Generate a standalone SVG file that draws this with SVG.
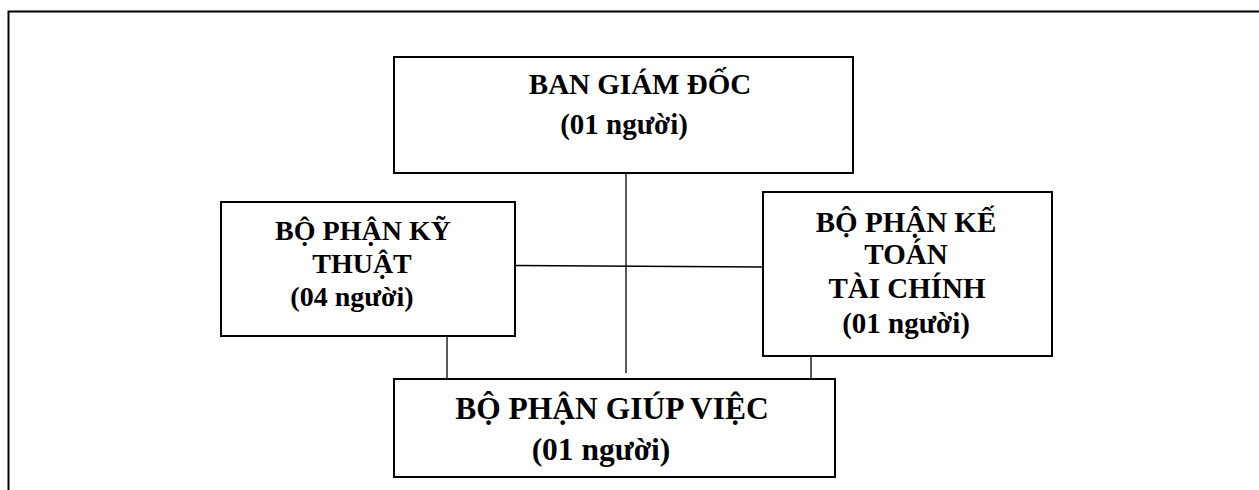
<svg xmlns="http://www.w3.org/2000/svg" width="1259" height="490" viewBox="0 0 1259 490">
<style>
.box{fill:#fff;stroke:#000;stroke-width:2}
.t{font-family:"Liberation Serif","Times New Roman",serif;font-weight:bold;fill:#000;text-anchor:middle}
.c{stroke:#000;stroke-width:1.3;fill:none}
</style>
<rect width="1259" height="490" fill="#fff"/>
<path d="M8.5,490 V11.5 H1259" fill="none" stroke="#000" stroke-width="2"/>
<g id="connectors">
<line class="c" x1="626" y1="173" x2="626" y2="373"/>
<line class="c" x1="515" y1="265.5" x2="763" y2="267"/>
<line class="c" x1="447" y1="336" x2="447" y2="379"/>
<line class="c" x1="811" y1="356" x2="811" y2="379"/>
</g>
<g id="ban-giam-doc">
<rect class="box" x="394" y="57" width="459" height="116"/>
<text class="t" x="640" y="94" font-size="29">BAN GIÁM ĐỐC</text>
<text class="t" x="624" y="134" font-size="29">(01 người)</text>
</g>
<g id="ky-thuat">
<rect class="box" x="221" y="202" width="294" height="134"/>
<text class="t" x="363" y="240" font-size="28">BỘ PHẬN KỸ</text>
<text class="t" x="362" y="273" font-size="28">THUẬT</text>
<text class="t" x="352" y="306" font-size="28">(04 người)</text>
</g>
<g id="ke-toan">
<rect class="box" x="763" y="192" width="289" height="164"/>
<text class="t" x="906" y="232" font-size="29">BỘ PHẬN KẾ</text>
<text class="t" x="906" y="264" font-size="29">TOÁN</text>
<text class="t" x="907" y="298" font-size="29">TÀI CHÍNH</text>
<text class="t" x="906" y="333" font-size="29">(01 người)</text>
</g>
<g id="giup-viec">
<rect class="box" x="394" y="379" width="441" height="98"/>
<text class="t" x="612" y="419" font-size="31.5">BỘ PHẬN GIÚP VIỆC</text>
<text class="t" x="601" y="460" font-size="31.5">(01 người)</text>
</g>
</svg>
